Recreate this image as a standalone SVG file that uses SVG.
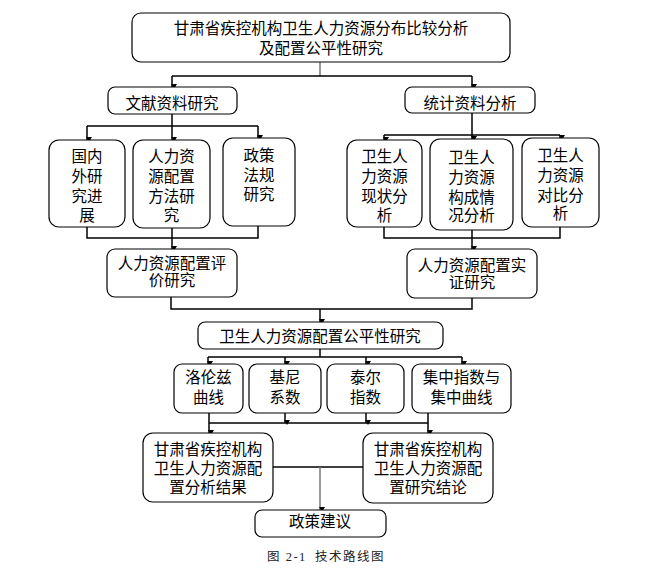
<svg xmlns="http://www.w3.org/2000/svg" width="666" height="571" viewBox="0 0 666 571">
<style>
.box{fill:#fff;stroke:#000;stroke-width:1.2}
.t{font-family:"Noto Sans CJK SC","Noto Sans",sans-serif;font-size:15.5px;fill:#000;text-anchor:middle}
.c{fill:none;stroke:#000;stroke-width:1.5}
.g{fill:none;stroke:#777;stroke-width:1.5}
.cap{font-family:"Liberation Serif","Noto Sans CJK SC",serif;font-size:12.5px;fill:#222;letter-spacing:1.5px}
</style>
<defs>
<marker id="a" markerUnits="userSpaceOnUse" markerWidth="6" markerHeight="6" refX="3" refY="5" orient="auto" viewBox="0 0 6 6">
<path d="M0,0 L6,0 L3,5 Z" fill="#000" transform="rotate(-90 3 3)"/>
</marker>
</defs>
<rect width="666" height="571" fill="#fff"/>
<g id="connectors">
<path class="g" d="M320,62 V76"/>
<path class="c" d="M172,76 H472"/>
<path class="c" d="M172,76 V87" marker-end="url(#a)"/>
<path class="c" d="M472,76 V87" marker-end="url(#a)"/>
<path class="c" d="M172,114 V126 M87,126 H258"/>
<path class="c" d="M87,126 V140" marker-end="url(#a)"/>
<path class="c" d="M172,126 V140" marker-end="url(#a)"/>
<path class="c" d="M258,126 V138" marker-end="url(#a)"/>
<path class="c" d="M472,113 V135 M384,135 H560"/>
<path class="c" d="M384,135 V140" marker-end="url(#a)"/>
<path class="c" d="M472,135 V139" marker-end="url(#a)"/>
<path class="c" d="M560,135 V138" marker-end="url(#a)"/>
<path class="c" d="M87,227 V238 H258 V226"/>
<path class="c" d="M172,228 V249" marker-end="url(#a)"/>
<path class="c" d="M384,227 V238 H560 V227"/>
<path class="c" d="M472,230 V249" marker-end="url(#a)"/>
<path class="c" d="M171,297 V309 H472 V298"/>
<path class="c" d="M320,309 V322" marker-end="url(#a)"/>
<path class="c" d="M320,349 V357 M208,357 H462"/>
<path class="c" d="M208,357 V364" marker-end="url(#a)"/>
<path class="c" d="M285,357 V364" marker-end="url(#a)"/>
<path class="c" d="M366,357 V364" marker-end="url(#a)"/>
<path class="c" d="M462,357 V364" marker-end="url(#a)"/>
<path class="c" d="M209,423 H428"/>
<path class="c" d="M209,413 V433" marker-end="url(#a)"/>
<path class="c" d="M285,413 V423" marker-end="url(#a)"/>
<path class="c" d="M366,413 V423" marker-end="url(#a)"/>
<path class="c" d="M428,413 V433" marker-end="url(#a)"/>
<path class="c" d="M273,467 H363"/>
<path class="g" d="M320,467 V510" marker-end="url(#a)"/>
</g>
<g id="n-title"><rect class="box" x="132" y="13" width="378" height="49" rx="9"/>
<text class="t"><tspan x="321" y="34">甘肃省疾控机构卫生人力资源分布比较分析</tspan><tspan x="321" y="54">及配置公平性研究</tspan></text></g>
<g id="n-wenxian"><rect class="box" x="108" y="87" width="129" height="27" rx="7"/>
<text class="t" x="172" y="109">文献资料研究</text></g>
<g id="n-tongji"><rect class="box" x="405" y="87" width="130" height="26" rx="7"/>
<text class="t" x="470" y="109">统计资料分析</text></g>
<g id="n-guonei"><rect class="box" x="49" y="140" width="76" height="87" rx="10"/>
<text class="t"><tspan x="87" y="162">国内</tspan><tspan x="87" y="182">外研</tspan><tspan x="87" y="202">究进</tspan><tspan x="87" y="221">展</tspan></text></g>
<g id="n-fangfa"><rect class="box" x="133" y="140" width="77" height="88" rx="10"/>
<text class="t"><tspan x="171.5" y="162">人力资</tspan><tspan x="171.5" y="182">源配置</tspan><tspan x="171.5" y="202">方法研</tspan><tspan x="171.5" y="221">究</tspan></text></g>
<g id="n-zhengce"><rect class="box" x="223" y="138" width="72" height="88" rx="10"/>
<text class="t"><tspan x="259" y="161">政策</tspan><tspan x="259" y="181">法规</tspan><tspan x="259" y="200">研究</tspan></text></g>
<g id="n-xianzhuang"><rect class="box" x="347" y="140" width="75" height="87" rx="10"/>
<text class="t"><tspan x="384.5" y="162">卫生人</tspan><tspan x="384.5" y="182">力资源</tspan><tspan x="384.5" y="202">现状分</tspan><tspan x="384.5" y="221">析</tspan></text></g>
<g id="n-goucheng"><rect class="box" x="430" y="139" width="83" height="91" rx="10"/>
<text class="t"><tspan x="471.5" y="163">卫生人</tspan><tspan x="471.5" y="183">力资源</tspan><tspan x="471.5" y="203">构成情</tspan><tspan x="471.5" y="221">况分析</tspan></text></g>
<g id="n-duibi"><rect class="box" x="522" y="138" width="77" height="89" rx="10"/>
<text class="t"><tspan x="560.5" y="161">卫生人</tspan><tspan x="560.5" y="181">力资源</tspan><tspan x="560.5" y="201">对比分</tspan><tspan x="560.5" y="219">析</tspan></text></g>
<g id="n-pingjia"><rect class="box" x="107" y="249" width="130" height="48" rx="8"/>
<text class="t"><tspan x="172" y="269">人力资源配置评</tspan><tspan x="172" y="286">价研究</tspan></text></g>
<g id="n-shizheng"><rect class="box" x="407" y="249" width="130" height="49" rx="8"/>
<text class="t"><tspan x="472" y="271">人力资源配置实</tspan><tspan x="472" y="288">证研究</tspan></text></g>
<g id="n-gongping"><rect class="box" x="198" y="322" width="245" height="27" rx="7"/>
<text class="t" x="320" y="342">卫生人力资源配置公平性研究</text></g>
<g id="n-luolunzi"><rect class="box" x="174" y="364" width="69" height="49" rx="8"/>
<text class="t"><tspan x="208.5" y="383">洛伦兹</tspan><tspan x="208.5" y="403">曲线</tspan></text></g>
<g id="n-jini"><rect class="box" x="249" y="364" width="72" height="49" rx="8"/>
<text class="t"><tspan x="285" y="383">基尼</tspan><tspan x="285" y="403">系数</tspan></text></g>
<g id="n-taier"><rect class="box" x="327" y="364" width="77" height="49" rx="8"/>
<text class="t"><tspan x="365.5" y="383">泰尔</tspan><tspan x="365.5" y="403">指数</tspan></text></g>
<g id="n-jizhong"><rect class="box" x="412" y="364" width="99" height="49" rx="8"/>
<text class="t"><tspan x="461.5" y="383">集中指数与</tspan><tspan x="461.5" y="403">集中曲线</tspan></text></g>
<g id="n-jieguo"><rect class="box" x="143" y="433" width="130" height="69" rx="10"/>
<text class="t"><tspan x="208" y="455">甘肃省疾控机构</tspan><tspan x="208" y="474">卫生人力资源配</tspan><tspan x="208" y="493">置分析结果</tspan></text></g>
<g id="n-jielun"><rect class="box" x="363" y="433" width="130" height="70" rx="10"/>
<text class="t"><tspan x="428" y="455">甘肃省疾控机构</tspan><tspan x="428" y="474">卫生人力资源配</tspan><tspan x="428" y="493">置研究结论</tspan></text></g>
<g id="n-jianyi"><rect class="box" x="255" y="510" width="131" height="27" rx="7"/>
<text class="t" x="320" y="527">政策建议</text></g>
<text class="cap" y="561"><tspan x="267">图 2-1</tspan><tspan x="315">技术路线图</tspan></text>
</svg>
